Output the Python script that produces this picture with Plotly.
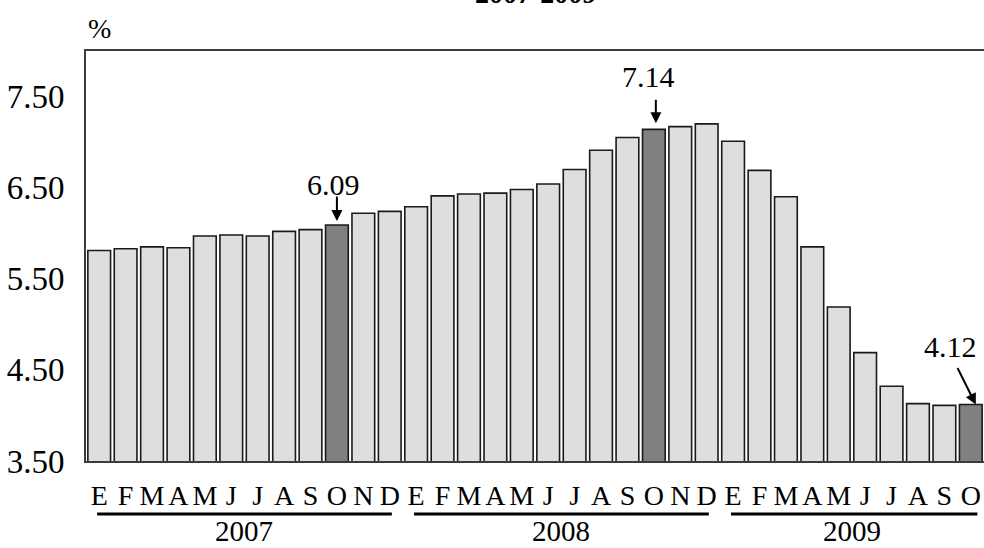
import plotly.graph_objects as go

# Monthly rate (%), Jan 2007 - Oct 2009
month_labels = (["E", "F", "M", "A", "M", "J", "J", "A", "S", "O", "N", "D"] * 2
                + ["E", "F", "M", "A", "M", "J", "J", "A", "S", "O"])
rates = [5.81, 5.83, 5.85, 5.84, 5.97, 5.98, 5.97, 6.02, 6.04, 6.09, 6.22, 6.24,
         6.29, 6.41, 6.43, 6.44, 6.48, 6.54, 6.70, 6.91, 7.05, 7.14, 7.17, 7.20,
         7.01, 6.69, 6.40, 5.85, 5.19, 4.69, 4.32, 4.13, 4.11, 4.12]
years = ["2007", "2008", "2009"]
months_per_year = [12, 12, 10]
highlighted = [9, 21, 33]          # October of each year
y_ticks = [3.5, 4.5, 5.5, 6.5, 7.5]

SERIF = "Liberation Serif, Times New Roman, serif"
LIGHT = "#dedede"
DARK = "#808080"
EDGE = "#1a1a1a"
AXIS = "#3c3c3c"

x = list(range(len(rates)))
colors = [DARK if i in highlighted else LIGHT for i in x]

fig = go.Figure(go.Bar(
    x=x, y=rates,
    marker=dict(color=colors, line=dict(color=EDGE, width=1.6)),
    hoverinfo="skip",
))

annotations = []
shapes = []

# value callouts with arrows
callout = {
    9: dict(ax=0, ay=-30, standoff=4, dx=-3, dy=41, axs=0),
    21: dict(ax=0, ay=-31, standoff=6, dx=-5, dy=53, axs=2),
    33: dict(ax=-19, ay=-38, standoff=0, dx=-20, dy=58, axs=5),
}
for i in highlighted:
    c = callout[i]
    annotations.append(dict(
        x=i, y=rates[i], xref="x", yref="y", text="", showarrow=True,
        ax=c["ax"], ay=c["ay"], axref="pixel", ayref="pixel",
        arrowhead=2, arrowsize=1.1, arrowwidth=2, arrowcolor="#000000",
        standoff=c["standoff"], xshift=c["axs"],
    ))
    annotations.append(dict(
        x=i, y=rates[i], xref="x", yref="y", text=f"{rates[i]:.2f}",
        showarrow=False, xanchor="center", yanchor="middle",
        xshift=c["dx"], yshift=c["dy"],
        font=dict(family=SERIF, size=30, color="#000000"),
    ))

# year labels with underlines
start = 0
for yr, n in zip(years, months_per_year):
    first, last = start, start + n - 1
    end_pad = 0.25 if n < 12 else 0.08
    shapes.append(dict(
        type="line", xref="x", yref="paper", ysizemode="pixel", yanchor=0,
        x0=first - 0.08, x1=last + end_pad, y0=-53, y1=-53,
        line=dict(color="#000000", width=3),
    ))
    annotations.append(dict(
        x=(first + last) / 2, y=0, xref="x", yref="paper", text=yr,
        showarrow=False, xanchor="center", yanchor="middle", yshift=-70,
        font=dict(family=SERIF, size=29, color="#000000"),
    ))
    start += n

# unit label and title
annotations.append(dict(
    x=0, y=1, xref="paper", yref="paper", text="%", showarrow=False,
    xanchor="left", yanchor="middle", xshift=0, yshift=23,
    font=dict(family=SERIF, size=28, color="#000000"),
))
annotations.append(dict(
    x=0.5, y=1, xref="paper", yref="paper", text="<b>2007-2009</b>",
    showarrow=False, xanchor="center", yanchor="bottom", yshift=40,
    font=dict(family=SERIF, size=28, color="#000000"),
))

fig.update_layout(
    width=984, height=548,
    margin=dict(l=86, r=0, t=51, b=87),
    plot_bgcolor="white", paper_bgcolor="white",
    bargap=0.14, showlegend=False,
    annotations=annotations, shapes=shapes,
    font=dict(family=SERIF, color="#000000"),
)
fig.update_xaxes(
    range=[-0.5, len(rates) - 0.5],
    tickmode="array", tickvals=x, ticktext=month_labels,
    tickfont=dict(family=SERIF, size=28, color="#000000"),
    showline=True, linecolor=AXIS, linewidth=2, mirror=True,
    ticks="", showgrid=False, zeroline=False, ticklabelstandoff=8,
)
fig.update_yaxes(
    range=[3.5, 8.0],
    tickmode="array", tickvals=y_ticks, tickformat=".2f",
    tickfont=dict(family=SERIF, size=33, color="#000000"),
    showline=True, linecolor=AXIS, linewidth=2,
    ticks="", showgrid=False, zeroline=False, ticklabelstandoff=13,
)

fig.write_html("out.html")
